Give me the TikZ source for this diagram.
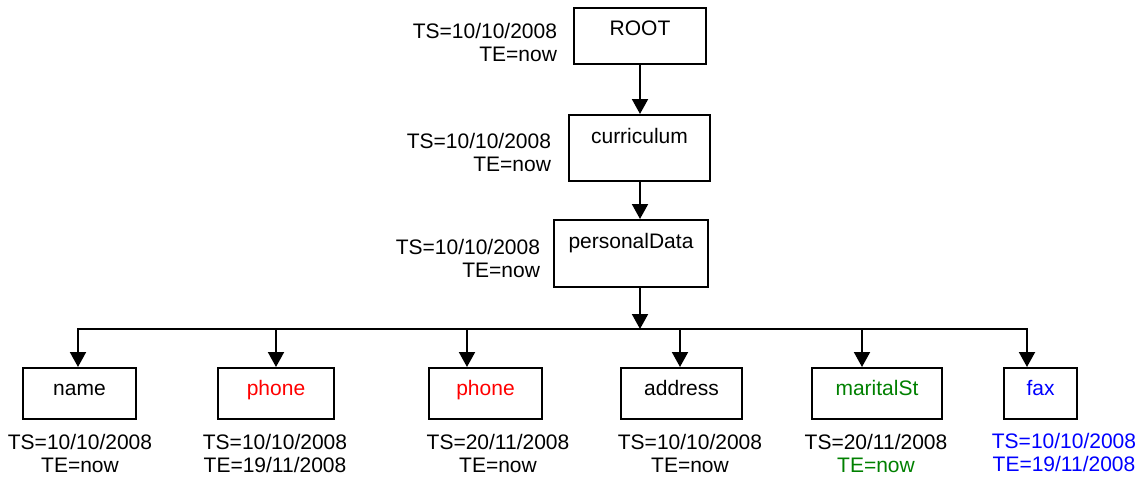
\documentclass[tikz,border=0pt]{standalone}
\usepackage{fontspec}
\setmainfont{Liberation Sans}
\usetikzlibrary{arrows.meta,positioning}
\definecolor{darkgreen}{RGB}{0,128,0}

\begin{document}
\begin{tikzpicture}[x=0.5pt,y=-0.5pt,line width=1pt,
   >={Triangle[length=7.5pt,width=8pt]},
   every node/.style={font=\fontsize{10.5}{11.5}\selectfont},
   elem/.style={draw,rectangle,inner sep=0pt,text height=14pt,text depth=19pt},
   leaf/.style={draw,rectangle,inner sep=0pt,text height=13.5pt,text depth=12pt},
   stamp/.style={inner sep=0pt,align=center,anchor=north},
   rstamp/.style={inner sep=0pt,align=right,anchor=north east}]
   \useasboundingbox (0,0) rectangle (1142,477);

   % upper chain
   \node[elem,minimum width=66pt,text height=13.5pt,text depth=14.5pt] (root) at (640,36) {ROOT};
   \node[elem,minimum width=70.5pt] (cur) at (639.5,148) {curriculum};
   \node[elem,minimum width=77pt,text depth=19.5pt] (pdata) at (631,253.5) {personalData};
   \node[rstamp] (rootts) at (558,22) {TS=10/10/2008\\TE=now};
   \node[rstamp] (curts) at (552,132) {TS=10/10/2008\\TE=now};
   \node[rstamp] (pdatats) at (541,238) {TS=10/10/2008\\TE=now};

   % leaves
   \node[leaf,minimum width=56.5pt] (nm) at (79.5,393.5) {name};
   \node[leaf,minimum width=58pt,text=red] (ph1) at (276,393.5) {phone};
   \node[leaf,minimum width=56.5pt,text=red] (ph2) at (485.5,393.5) {phone};
   \node[leaf,minimum width=60.5pt] (addr) at (681.5,393.5) {address};
   \node[leaf,minimum width=65pt,text=darkgreen] (mst) at (877,393.5) {maritalSt};
   \node[leaf,minimum width=36.5pt,text=blue] (fx) at (1040.5,393.5) {fax};

   \node[stamp] (nmts) at (80,433) {TS=10/10/2008\\TE=now};
   \node[stamp] (ph1ts) at (275,433) {TS=10/10/2008\\TE=19/11/2008};
   \node[stamp] (ph2ts) at (498,433) {TS=20/11/2008\\TE=now};
   \node[stamp] (addrts) at (690,433) {TS=10/10/2008\\TE=now};
   \node[stamp] (mstts) at (876,433) {TS=20/11/2008\\\textcolor{darkgreen}{TE=now}};
   \node[stamp,text=blue] (fxts) at (1064,432) {TS=10/10/2008\\TE=19/11/2008};

   % connectors
   \coordinate (hub) at (640,329);
   \coordinate (b1) at (78,329);
   \coordinate (b2) at (276,329);
   \coordinate (b3) at (467,329);
   \coordinate (b4) at (680,329);
   \coordinate (b5) at (862,329);
   \coordinate (b6) at (1027,329);
   \draw[->] (root) -- (root.south |- cur.north);
   \draw[->] (root.south |- cur.south) -- (root.south |- pdata.north);
   \draw[->] (hub |- pdata.south) -- (hub);
   \draw[->] (hub) -| (b1 |- nm.north);
   \draw[->] (hub) -| (b6 |- fx.north);
   \draw[->] (b2) -- (b2 |- ph1.north);
   \draw[->] (b3) -- (b3 |- ph2.north);
   \draw[->] (b4) -- (b4 |- addr.north);
   \draw[->] (b5) -- (b5 |- mst.north);
\end{tikzpicture}
\end{document}
